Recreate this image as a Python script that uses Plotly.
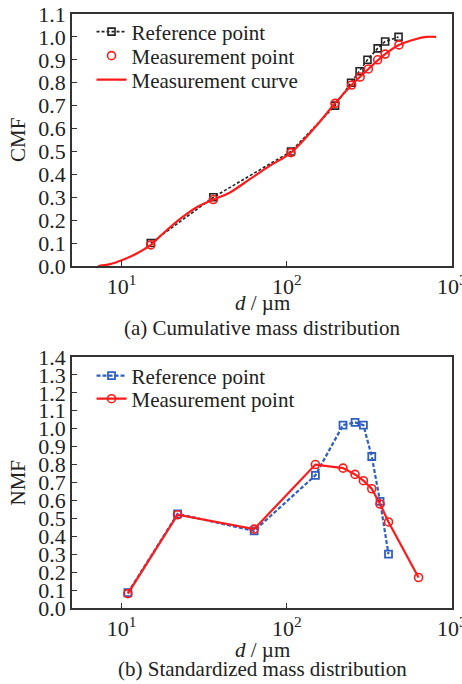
import math
import plotly.graph_objects as go

# ---- (a) cumulative mass distribution ----
ref_d = [15.0, 35.9, 106, 196, 245, 276, 308, 355, 394, 475]
ref_cmf = [0.10, 0.30, 0.50, 0.70, 0.80, 0.85, 0.90, 0.95, 0.98, 1.00]

meas_d = [15.0, 35.9, 106, 196, 247, 278, 312, 355, 394, 478]
meas_cmf = [0.092, 0.29, 0.495, 0.71, 0.79, 0.825, 0.86, 0.90, 0.925, 0.965]

curve_d = [7.2, 8.5, 10, 12, 15.0, 18, 23, 29, 35.9, 45, 60, 80, 106, 150,
           196, 247, 312, 394, 478, 600, 700, 803]
curve_cmf = [0.0, 0.008, 0.025, 0.05, 0.092, 0.145, 0.21, 0.26, 0.29, 0.32,
             0.38, 0.44, 0.495, 0.61, 0.71, 0.79, 0.86, 0.925, 0.965, 0.99,
             1.0, 1.0]

# ---- (b) standardized mass distribution ----
nref_d = [10.9, 21.8, 63.4, 149, 219, 259, 291, 327, 367, 413]
nref_nmf = [0.085, 0.525, 0.43, 0.74, 1.02, 1.035, 1.02, 0.845, 0.595, 0.30]

nmeas_d = [10.9, 21.8, 63.4, 149, 219, 259, 291, 327, 367, 413, 628]
nmeas_nmf = [0.08, 0.52, 0.44, 0.80, 0.78, 0.745, 0.71, 0.665, 0.58, 0.48, 0.17]

y_ticks_a = [round(i * 0.1, 1) for i in range(12)]
y_ticks_b = [round(i * 0.1, 1) for i in range(15)]
x_tickvals = [10, 100, 1000]
x_ticktext = ["10<sup>1</sup>", "10<sup>2</sup>", "10<sup>3</sup>"]

FONT = "Liberation Serif, Times New Roman, serif"
TXT = "#222222"
RED = "#ff1a1a"
BLUE = "#2f5fc0"
LEG_SIZE = 21

# plot-area geometry (paper fractions)
TOP_DOM = [0.5758, 1.0]
BOT_DOM = [0.0, 0.4226]

fig = go.Figure()

fig.add_trace(go.Scatter(
    x=ref_d, y=ref_cmf, mode="lines+markers", name="Reference point",
    line=dict(color="#222222", width=1.6, dash="3px,2px"),
    marker=dict(symbol="square-open", size=7, color="#222222", line=dict(width=1.6)),
    xaxis="x", yaxis="y", legend="legend"))
fig.add_trace(go.Scatter(
    x=meas_d, y=meas_cmf, mode="markers", name="Measurement point",
    marker=dict(symbol="circle-open", size=8, color=RED, line=dict(width=1.6)),
    xaxis="x", yaxis="y", legend="legend2"))
fig.add_trace(go.Scatter(
    x=curve_d, y=curve_cmf, mode="lines", name="Measurement curve",
    line=dict(color=RED, width=2.2, shape="spline", smoothing=1.0),
    xaxis="x", yaxis="y", legend="legend3"))

fig.add_trace(go.Scatter(
    x=nref_d, y=nref_nmf, mode="lines+markers", name="Reference point",
    line=dict(color=BLUE, width=2.2, dash="4px,2px"),
    marker=dict(symbol="square-open", size=7, color=BLUE, line=dict(width=1.8)),
    xaxis="x2", yaxis="y2", legend="legend4"))
fig.add_trace(go.Scatter(
    x=nmeas_d, y=nmeas_nmf, mode="lines+markers", name="Measurement point",
    line=dict(color=RED, width=2.2),
    marker=dict(symbol="circle-open", size=8, color=RED, line=dict(width=1.6)),
    xaxis="x2", yaxis="y2", legend="legend5"))

axis_common = dict(showgrid=False, zeroline=False, showline=True, mirror=True,
                   linecolor="#333333", linewidth=1.5, ticks="inside",
                   ticklen=5, tickwidth=1.2, tickcolor="#333333",
                   ticklabeloverflow="allow", automargin=False,
                   tickfont=dict(family=FONT, size=22, color=TXT))


def legend_at(y):
    return dict(x=0.0514, y=y, xanchor="left", yanchor="middle",
                bgcolor="rgba(0,0,0,0)", itemwidth=30,
                font=dict(family=FONT, size=LEG_SIZE, color=TXT))


xr = [math.log10(5), 3.0005]
fig.update_layout(
    width=462, height=684,
    margin=dict(l=72, r=10, t=14, b=76, autoexpand=False),
    paper_bgcolor="white", plot_bgcolor="white",
    font=dict(family=FONT, color=TXT),
    xaxis=dict(type="log", range=xr, tickvals=x_tickvals, ticktext=x_ticktext,
               anchor="y", domain=[0, 1], **axis_common),
    yaxis=dict(range=[0, 1.1], tickvals=y_ticks_a, tickformat=".1f",
               anchor="x", domain=TOP_DOM, **axis_common),
    xaxis2=dict(type="log", range=xr, tickvals=x_tickvals, ticktext=x_ticktext,
                anchor="y2", domain=[0, 1], **axis_common),
    yaxis2=dict(range=[0, 1.4], tickvals=y_ticks_b, tickformat=".1f",
                anchor="x2", domain=BOT_DOM, **axis_common),
    legend=legend_at(0.9697),
    legend2=legend_at(0.9293),
    legend3=legend_at(0.8889),
    legend4=legend_at(0.3906),
    legend5=legend_at(0.3518),
    showlegend=True,
)

# axis titles and captions
ann_font = dict(family=FONT, size=21, color=TXT)
common_ann = dict(xref="paper", yref="paper", showarrow=False, font=ann_font,
                  xanchor="center", yanchor="middle")
fig.add_annotation(text="CMF", textangle=-90, x=0, y=sum(TOP_DOM) / 2,
                   xshift=-54, **common_ann)
fig.add_annotation(text="NMF", textangle=-90, x=0, y=sum(BOT_DOM) / 2,
                   xshift=-54, **common_ann)
fig.add_annotation(text="<i>d</i> / µm", x=0.5, y=TOP_DOM[0], yshift=-37,
                   **common_ann)
fig.add_annotation(text="(a) Cumulative mass distribution", x=0.5,
                   y=TOP_DOM[0], yshift=-62, **common_ann)
fig.add_annotation(text="<i>d</i> / µm", x=0.5, y=BOT_DOM[0], yshift=-42,
                   **common_ann)
fig.add_annotation(text="(b) Standardized mass distribution", x=0.5,
                   y=BOT_DOM[0], yshift=-61, **common_ann)

fig.write_html("out.html")
